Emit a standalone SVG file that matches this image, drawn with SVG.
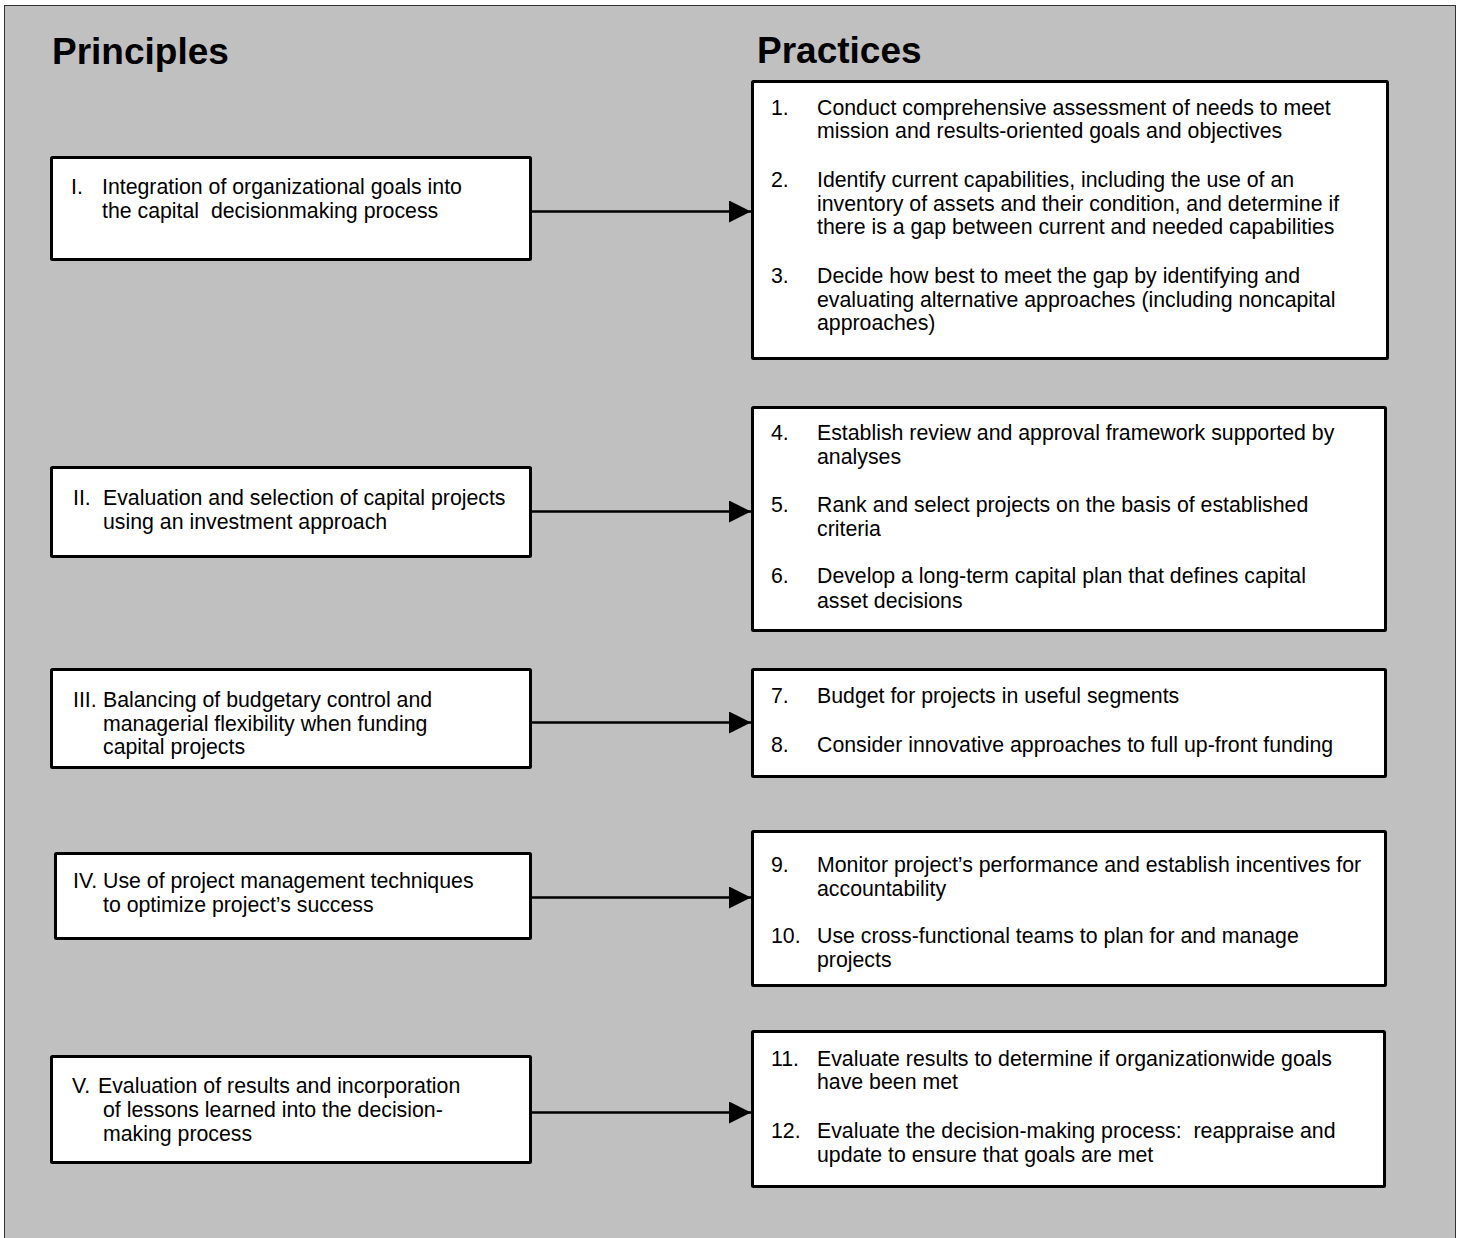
<svg xmlns="http://www.w3.org/2000/svg" width="1459" height="1238" viewBox="0 0 1459 1238">
<style>
.t{font-family:"Liberation Sans",Arial,sans-serif;font-size:21.3px;fill:#000}
.h{font-family:"Liberation Sans",Arial,sans-serif;font-size:37px;font-weight:bold;fill:#000}
.box{fill:#fff;stroke:#000;stroke-width:3}
.conn{stroke:#000;stroke-width:2.5;fill:none}
</style>
<defs>
<marker id="ah" markerUnits="userSpaceOnUse" markerWidth="24" markerHeight="24" refX="22" refY="11" orient="auto">
<path d="M0,0 L22,11 L0,22 Z" fill="#000"/>
</marker>
</defs>
<rect x="0" y="0" width="1459" height="1238" fill="#fff"/>
<rect x="4.5" y="5.5" width="1451" height="1250" fill="#c0c0c0" stroke="#333" stroke-width="1"/>
<text class="h" x="52" y="64">Principles</text>
<text class="h" x="757" y="63">Practices</text>

<g id="connectors">
<line class="conn" x1="531" y1="211.5" x2="751" y2="211.5" marker-end="url(#ah)"/>
<line class="conn" x1="531" y1="511.5" x2="751" y2="511.5" marker-end="url(#ah)"/>
<line class="conn" x1="531" y1="722.5" x2="751" y2="722.5" marker-end="url(#ah)"/>
<line class="conn" x1="531" y1="897.5" x2="751" y2="897.5" marker-end="url(#ah)"/>
<line class="conn" x1="531" y1="1112.5" x2="751" y2="1112.5" marker-end="url(#ah)"/>
</g>

<g id="principle-1">
<rect class="box" x="51.5" y="157.5" width="479" height="102" rx="1"/>
<text class="t" x="71" y="194">I.</text>
<text class="t" x="102" y="194">Integration of organizational goals into</text>
<text class="t" x="102" y="218" xml:space="preserve">the capital  decisionmaking process</text>
</g>
<g id="principle-2">
<rect class="box" x="51.5" y="467.5" width="479" height="89" rx="1"/>
<text class="t" x="73" y="505">II.</text>
<text class="t" x="103" y="505">Evaluation and selection of capital projects</text>
<text class="t" x="103" y="529">using an investment approach</text>
</g>
<g id="principle-3">
<rect class="box" x="51.5" y="669.5" width="479" height="98" rx="1"/>
<text class="t" x="73" y="707">III.</text>
<text class="t" x="103" y="707">Balancing of budgetary control and</text>
<text class="t" x="103" y="731">managerial flexibility when funding</text>
<text class="t" x="103" y="754">capital projects</text>
</g>
<g id="principle-4">
<rect class="box" x="55.5" y="853.5" width="475" height="85" rx="1"/>
<text class="t" x="73" y="888">IV.</text>
<text class="t" x="103" y="888">Use of project management techniques</text>
<text class="t" x="103" y="912">to optimize project’s success</text>
</g>
<g id="principle-5">
<rect class="box" x="51.5" y="1056.5" width="479" height="106" rx="1"/>
<text class="t" x="72" y="1093">V.</text>
<text class="t" x="98" y="1093">Evaluation of results and incorporation</text>
<text class="t" x="103" y="1117">of lessons learned into the decision-</text>
<text class="t" x="103" y="1141">making process</text>
</g>

<g id="practices-1-3">
<rect class="box" x="752.5" y="81.5" width="635" height="277" rx="1"/>
<text class="t" x="771" y="115">1.</text>
<text class="t" x="817" y="115">Conduct comprehensive assessment of needs to meet</text>
<text class="t" x="817" y="138">mission and results-oriented goals and objectives</text>
<text class="t" x="771" y="187">2.</text>
<text class="t" x="817" y="187">Identify current capabilities, including the use of an</text>
<text class="t" x="817" y="211">inventory of assets and their condition, and determine if</text>
<text class="t" x="817" y="234">there is a gap between current and needed capabilities</text>
<text class="t" x="771" y="283">3.</text>
<text class="t" x="817" y="283">Decide how best to meet the gap by identifying and</text>
<text class="t" x="817" y="307">evaluating alternative approaches (including noncapital</text>
<text class="t" x="817" y="330">approaches)</text>
</g>
<g id="practices-4-6">
<rect class="box" x="752.5" y="407.5" width="633" height="223" rx="1"/>
<text class="t" x="771" y="440">4.</text>
<text class="t" x="817" y="440">Establish review and approval framework supported by</text>
<text class="t" x="817" y="464">analyses</text>
<text class="t" x="771" y="512">5.</text>
<text class="t" x="817" y="512">Rank and select projects on the basis of established</text>
<text class="t" x="817" y="536">criteria</text>
<text class="t" x="771" y="583">6.</text>
<text class="t" x="817" y="583">Develop a long-term capital plan that defines capital</text>
<text class="t" x="817" y="608">asset decisions</text>
</g>
<g id="practices-7-8">
<rect class="box" x="752.5" y="669.5" width="633" height="107" rx="1"/>
<text class="t" x="771" y="703">7.</text>
<text class="t" x="817" y="703">Budget for projects in useful segments</text>
<text class="t" x="771" y="752">8.</text>
<text class="t" x="817" y="752">Consider innovative approaches to full up-front funding</text>
</g>
<g id="practices-9-10">
<rect class="box" x="752.5" y="831.5" width="633" height="154" rx="1"/>
<text class="t" x="771" y="872">9.</text>
<text class="t" x="817" y="872">Monitor project’s performance and establish incentives for</text>
<text class="t" x="817" y="896">accountability</text>
<text class="t" x="771" y="943">10.</text>
<text class="t" x="817" y="943">Use cross-functional teams to plan for and manage</text>
<text class="t" x="817" y="967">projects</text>
</g>
<g id="practices-11-12">
<rect class="box" x="752.5" y="1031.5" width="632" height="155" rx="1"/>
<text class="t" x="771" y="1066">11.</text>
<text class="t" x="817" y="1066">Evaluate results to determine if organizationwide goals</text>
<text class="t" x="817" y="1089">have been met</text>
<text class="t" x="771" y="1138">12.</text>
<text class="t" x="817" y="1138" xml:space="preserve">Evaluate the decision-making process:  reappraise and</text>
<text class="t" x="817" y="1162">update to ensure that goals are met</text>
</g>
</svg>
